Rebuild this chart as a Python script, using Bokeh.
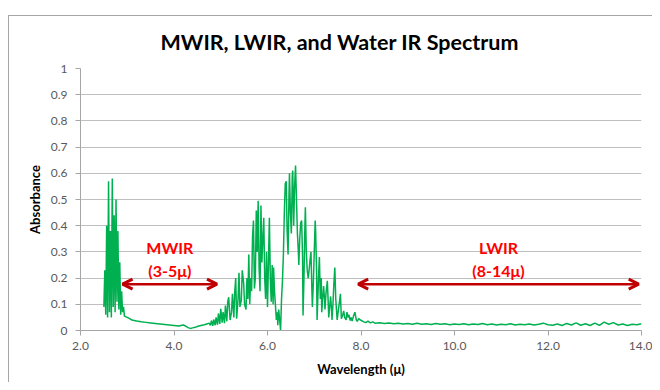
from bokeh.plotting import figure
from bokeh.models import Title, Arrow, OpenHead, FixedTicker, PrintfTickFormatter, CustomJSTickFormatter, Label
from bokeh.embed import file_html
from bokeh.resources import INLINE

# ---- data ----
wl_band1 = [2.50, 2.52, 2.54, 2.56, 2.58, 2.60, 2.62, 2.64, 2.66, 2.68, 2.70, 2.72,
            2.74, 2.76, 2.78, 2.80, 2.82, 2.84, 2.86, 2.88, 2.90, 2.92, 2.94]
ab_band1 = [0.09, 0.23, 0.06, 0.40, 0.05, 0.57, 0.07, 0.38, 0.05, 0.58, 0.09, 0.44,
            0.07, 0.50, 0.11, 0.38, 0.08, 0.26, 0.06, 0.15, 0.07, 0.09, 0.055]

wl_gap = [3.00, 3.05, 3.10, 3.20, 3.30, 3.40, 3.50, 3.60, 3.70, 3.80, 3.90, 4.00, 4.10,
          4.15, 4.20, 4.25, 4.30, 4.35, 4.40, 4.45, 4.50, 4.55, 4.60, 4.65, 4.70, 4.75]
ab_gap = [0.050, 0.045, 0.040, 0.036, 0.033, 0.031, 0.029, 0.027, 0.025, 0.023, 0.021,
          0.019, 0.017, 0.019, 0.021, 0.017, 0.011, 0.008, 0.010, 0.012, 0.015, 0.018,
          0.020, 0.022, 0.025, 0.028]

wl_band2 = [4.78, 4.80, 4.83, 4.85, 4.88, 4.90, 4.93, 4.95, 4.98, 5.00, 5.03, 5.05, 5.08,
            5.10, 5.13, 5.15, 5.17, 5.20, 5.23, 5.25, 5.28, 5.30, 5.32, 5.34, 5.37, 5.39,
            5.41, 5.44, 5.46, 5.49, 5.51, 5.54, 5.56, 5.58, 5.60, 5.62, 5.64, 5.66,
            5.68, 5.70, 5.72, 5.74, 5.76, 5.78, 5.80, 5.82, 5.84, 5.86, 5.88, 5.90, 5.92,
            5.94, 5.96, 5.98, 6.00, 6.02, 6.04, 6.06, 6.08, 6.10, 6.12, 6.13, 6.15, 6.17,
            6.19, 6.21, 6.22, 6.24, 6.26, 6.28, 6.30]
ab_band2 = [0.020, 0.038, 0.018, 0.042, 0.020, 0.050, 0.022, 0.065, 0.025, 0.083, 0.030,
            0.070, 0.028, 0.095, 0.035, 0.110, 0.127, 0.040, 0.070, 0.140, 0.050, 0.150,
            0.200, 0.045, 0.120, 0.220, 0.090, 0.115, 0.230, 0.180, 0.100, 0.080, 0.200,
            0.120, 0.290, 0.100, 0.200, 0.150,
            0.360, 0.420, 0.160, 0.200, 0.458, 0.300, 0.495, 0.240, 0.150, 0.477, 0.260,
            0.350, 0.430, 0.200, 0.120, 0.300, 0.090, 0.250, 0.430, 0.200, 0.110, 0.250,
            0.100, 0.240, 0.150, 0.095, 0.040, 0.070, 0.020, 0.080, 0.040, 0.000, 0.120]

wl_band3 = [6.32, 6.34, 6.36, 6.38, 6.40, 6.42, 6.44, 6.46, 6.47, 6.49, 6.51, 6.53, 6.54,
            6.56, 6.58, 6.60, 6.62, 6.64, 6.66, 6.67, 6.69, 6.71, 6.73, 6.75, 6.76, 6.78,
            6.80, 6.81, 6.83, 6.85, 6.87, 6.89, 6.91, 6.93, 6.95, 6.96, 6.98, 7.00, 7.02,
            7.03, 7.05, 7.06,
            7.08, 7.09, 7.11, 7.13, 7.15, 7.16, 7.18, 7.20, 7.22, 7.23, 7.25, 7.28, 7.30,
            7.31, 7.33, 7.35, 7.37, 7.38, 7.40, 7.42, 7.44, 7.46, 7.49, 7.51, 7.54, 7.56,
            7.58, 7.61, 7.63, 7.65, 7.68, 7.70, 7.72, 7.74, 7.77, 7.79, 7.81, 7.84, 7.87,
            7.90, 7.92, 7.95, 7.99]
ab_band3 = [0.190, 0.290, 0.450, 0.560, 0.570, 0.380, 0.290, 0.520, 0.600, 0.450, 0.370,
            0.590, 0.610, 0.400, 0.550, 0.630, 0.500, 0.370, 0.300, 0.250, 0.350, 0.410,
            0.420, 0.280, 0.057, 0.200, 0.400, 0.470, 0.300, 0.230, 0.200, 0.230, 0.270,
            0.300, 0.150, 0.090, 0.180, 0.300, 0.420, 0.380, 0.220, 0.040,
            0.140, 0.200, 0.280, 0.120, 0.200, 0.070, 0.120, 0.170, 0.120, 0.080, 0.140,
            0.190, 0.100, 0.050, 0.090, 0.130, 0.080, 0.040, 0.100, 0.180, 0.240, 0.120,
            0.040, 0.070, 0.110, 0.140, 0.045, 0.060, 0.075, 0.050, 0.040, 0.070, 0.050,
            0.060, 0.038, 0.050, 0.036, 0.055, 0.070, 0.040, 0.035, 0.045, 0.040]

wl_tail = [8.05, 8.1, 8.15, 8.2, 8.25, 8.3, 8.4, 8.5, 8.6, 8.7, 8.8, 8.9, 9.0, 9.1, 9.2,
           9.3, 9.4, 9.5, 9.6, 9.7, 9.8, 9.9, 10.0, 10.1, 10.2, 10.3, 10.4, 10.5, 10.6,
           10.7, 10.8, 10.9, 11.0, 11.1, 11.2, 11.3, 11.4, 11.5, 11.6, 11.7, 11.8, 11.9,
           12.0, 12.1, 12.2, 12.3, 12.4, 12.5, 12.6, 12.7, 12.8, 12.9, 13.0, 13.1, 13.2,
           13.3, 13.4, 13.5, 13.6, 13.7, 13.8, 13.9, 14.0]
ab_tail = [0.034, 0.030, 0.036, 0.029, 0.033, 0.028, 0.030, 0.027, 0.029, 0.026, 0.028,
           0.025, 0.027, 0.024, 0.028, 0.024, 0.026, 0.023, 0.027, 0.024, 0.026, 0.022,
           0.025, 0.023, 0.026, 0.022, 0.025, 0.023, 0.027, 0.022, 0.025, 0.021, 0.024,
           0.022, 0.026, 0.021, 0.024, 0.022, 0.025, 0.021, 0.024, 0.028, 0.022, 0.020,
           0.025, 0.019, 0.027, 0.021, 0.029, 0.020, 0.026, 0.019, 0.028, 0.020, 0.032,
           0.024, 0.030, 0.021, 0.025, 0.019, 0.024, 0.022, 0.026]

x_ticks = [2, 4, 6, 8, 10, 12, 14]
y_ticks = [0, 0.1, 0.2, 0.3, 0.4, 0.5, 0.6, 0.7, 0.8, 0.9, 1.0]

bands = [("MWIR", "(3-5\u03bc)", 2.9, 4.92), ("LWIR", "(8-14\u03bc)", 7.94, 13.94)]

wavelength = wl_band1 + wl_gap + wl_band2 + wl_band3 + wl_tail
absorbance = ab_band1 + ab_gap + ab_band2 + ab_band3 + ab_tail

FONT = "Lato"

p = figure(width=644, height=367, x_range=(2, 14), y_range=(0, 1),
           output_backend="svg", toolbar_location=None,
           min_border_left=71, min_border_right=12, min_border_top=52, min_border_bottom=53)
p.styles = {"margin-top": "15px", "margin-left": "8px",
            "border-left": "1px solid #a6a6a6", "border-top": "1px solid #a6a6a6"}
p.outline_line_color = None
p.background_fill_color = "white"
p.border_fill_color = "white"

p.title = Title(text="MWIR, LWIR, and Water IR Spectrum", align="left", offset=80,
                text_font=FONT, text_font_size="21.5px", text_font_style="bold",
                text_color="black", standoff=24, vertical_align="top")

p.line(wavelength, absorbance, line_color="#00B050", line_width=1.5)

# axes
p.xaxis.ticker = FixedTicker(ticks=x_ticks)
p.xaxis.formatter = PrintfTickFormatter(format="%.1f")
p.yaxis.ticker = FixedTicker(ticks=y_ticks)
p.yaxis.formatter = CustomJSTickFormatter(code="return tick.toFixed(1).replace(/\\.0$/, '');")
for ax in (p.xaxis[0], p.yaxis[0]):
    ax.axis_line_color = "#a6a6a6"
    ax.major_tick_line_color = "#a6a6a6"
    ax.major_tick_out = 5
    ax.major_tick_in = 0
    ax.minor_tick_line_color = None
    ax.major_label_text_font = FONT
    ax.major_label_text_font_size = "12px"
    ax.major_label_text_color = "#595959"
    ax.axis_label_text_font = FONT
    ax.axis_label_text_font_size = "13px"
    ax.axis_label_text_font_style = "bold"
    ax.axis_label_text_color = "black"
p.xaxis.axis_label = "Wavelength (\u03bc)"
p.yaxis.axis_label = "Absorbance"
p.yaxis.major_label_standoff = 8
p.xaxis.major_label_standoff = 6
p.xaxis.axis_label_standoff = 8

p.xgrid.grid_line_color = None
p.ygrid.grid_line_color = "#bfbfbf"
p.ygrid.grid_line_width = 1

# band arrows and labels
for name, rng, xs, xe in bands:
    p.add_layout(Arrow(x_start=xs, y_start=0.177, x_end=xe, y_end=0.177,
                       line_color="#C00000", line_width=2.5,
                       start=OpenHead(size=10, line_color="#C00000", line_width=3),
                       end=OpenHead(size=10, line_color="#C00000", line_width=3)))
    xc = (xs + xe) / 2
    p.add_layout(Label(x=xc, y=0.315, text=name, text_font=FONT, text_font_size="16px",
                       text_font_style="bold", text_color="#FF0000",
                       text_align="center", text_baseline="middle"))
    p.add_layout(Label(x=xc, y=0.23, text=rng, text_font=FONT, text_font_size="16px",
                       text_font_style="bold", text_color="#FF0000",
                       text_align="center", text_baseline="middle"))

open("out.html", "w").write(file_html(p, INLINE))
